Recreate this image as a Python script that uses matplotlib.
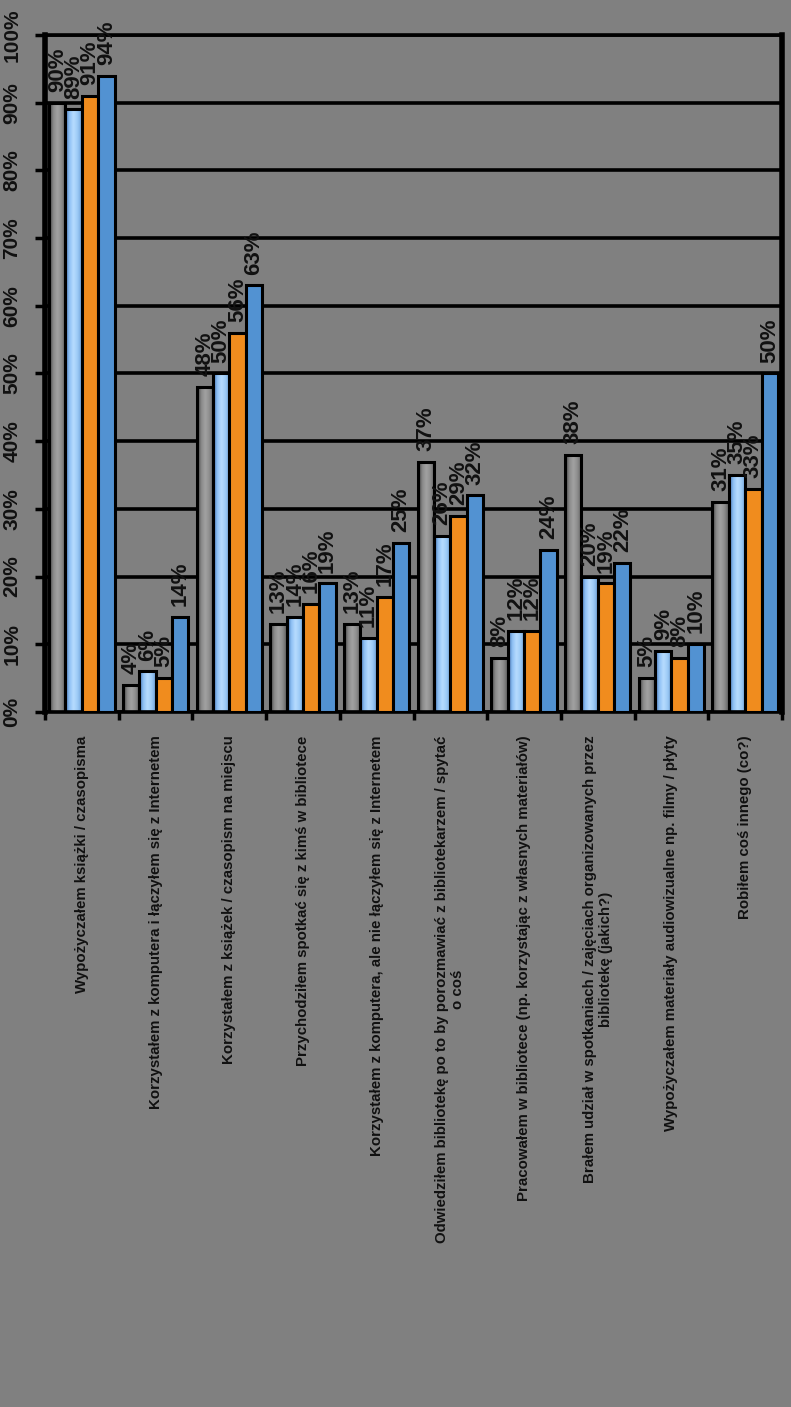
import numpy as np, matplotlib
matplotlib.use('Agg')
import matplotlib.pyplot as plt
from matplotlib.colors import LinearSegmentedColormap

plt.rcParams['font.family'] = ['Liberation Sans', 'DejaVu Sans']

categories = [
    'Wypożyczałem książki / czasopisma',
    'Korzystałem z komputera i łączyłem się z Internetem',
    'Korzystałem z książek / czasopism na miejscu',
    'Przychodziłem spotkać się z kimś w bibliotece',
    'Korzystałem z komputera, ale nie łączyłem się z Internetem',
    'Odwiedziłem bibliotekę po to by porozmawiać z bibliotekarzem / spytać\no coś',
    'Pracowałem w bibliotece (np. korzystając z własnych materiałów)',
    'Brałem udział w spotkaniach / zajęciach organizowanych przez\nbibliotekę (jakich?)',
    'Wypożyczałem materiały audiowizualne np. filmy / płyty',
    'Robiłem coś innego (co?)',
]
s_gray   = [90, 4, 48, 13, 13, 37, 8, 38, 5, 31]
s_lblue  = [89, 6, 50, 14, 11, 26, 12, 20, 9, 35]
s_orange = [91, 5, 56, 16, 17, 29, 12, 19, 8, 33]
s_blue   = [94, 14, 63, 19, 25, 32, 24, 22, 10, 50]
yticks = [0, 10, 20, 30, 40, 50, 60, 70, 80, 90, 100]

BG = '#808080'
cm_gray = LinearSegmentedColormap.from_list('g', ['#3a3a3a', '#8a8a8a', '#a2a2a2', '#8c8c8c', '#5e5e5e'])
cm_lblue = LinearSegmentedColormap.from_list('lb', ['#3f6fae', '#8ec0f4', '#b8dcff', '#9ccaf6', '#6e9fd8'])
series = [(s_gray, cm_gray, None), (s_lblue, cm_lblue, None),
          (s_orange, None, '#F08C1E'), (s_blue, None, '#5292D2')]

fig = plt.figure(figsize=(7.91, 14.07), dpi=100, facecolor=BG)
ax = fig.add_axes([45/791, 1-712/1407, (782-45)/791, (712-35)/1407])
ax.set_facecolor(BG)

n = len(categories)
w = 0.222
x = np.arange(n) + 0.5
grad = np.linspace(0, 1, 64).reshape(1, -1)
for k, (vals, cmap, col) in enumerate(series):
    xs = x + (k - 1.5) * w
    if cmap is not None:
        for xi, v in zip(xs, vals):
            ax.imshow(grad, extent=[xi - w/2, xi + w/2, 0, v], aspect='auto',
                      cmap=cmap, zorder=2, interpolation='bicubic')
        ax.bar(xs, vals, w, fill=False, edgecolor='black', linewidth=2.2, zorder=3)
    else:
        ax.bar(xs, vals, w, color=col, edgecolor='black', linewidth=2.2, zorder=3)
    for xi, v in zip(xs, vals):
        ax.text(xi, v + 1.6, f'{v}%', rotation=90, ha='center', va='bottom',
                fontsize=16, fontweight='bold', color='#111111', zorder=5, clip_on=False)

ax.set_xlim(0, n)
ax.set_ylim(0, 100)
ax.set_yticks(yticks)
ax.set_yticklabels([f'{t}%' for t in yticks], rotation=90, va='center',
                   fontsize=15, fontweight='bold', color='#111111')
ax.tick_params(axis='y', length=7, width=2.5, color='black', pad=10)
ax.set_xticks(x)
ax.set_xticklabels(categories, rotation=90, fontsize=10.8, fontweight='bold',
                   color='#111111', multialignment='center')
ax.set_xticks(np.arange(n + 1), minor=True)
ax.tick_params(axis='x', which='major', length=0, pad=17)
ax.tick_params(axis='x', which='minor', length=6, width=2.5, color='black')
ax.yaxis.grid(True, color='black', linewidth=2.6, zorder=1)
ax.set_axisbelow(True)
for side, lw in [('left', 4), ('right', 4), ('top', 2.6), ('bottom', 2.6)]:
    ax.spines[side].set_linewidth(lw)
    ax.spines[side].set_color('black')

fig.savefig('out.png', dpi=100, facecolor=BG)
